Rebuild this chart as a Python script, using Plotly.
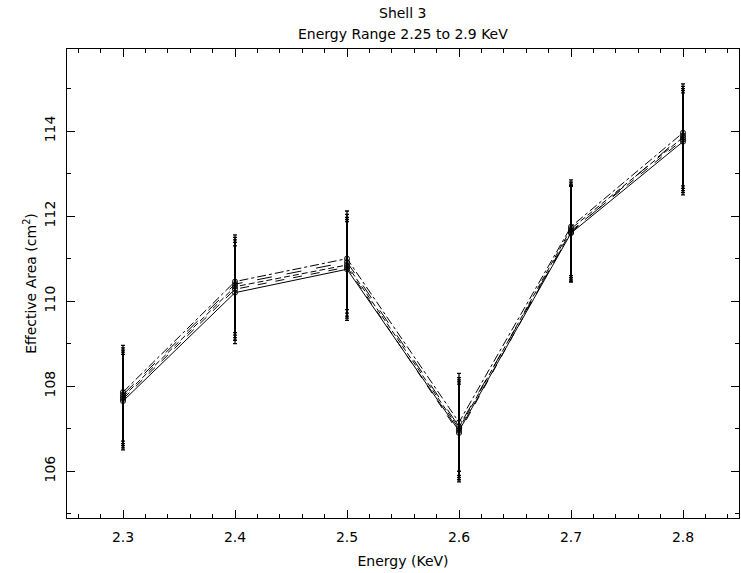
import plotly.graph_objects as go

energy = [2.3, 2.4, 2.5, 2.6, 2.7, 2.8]
area_s1 = [107.65, 110.20, 110.75, 106.95, 111.60, 113.75]
area_s2 = [107.70, 110.28, 110.80, 106.90, 111.65, 113.80]
area_s3 = [107.75, 110.34, 110.85, 107.00, 111.70, 113.85]
area_s4 = [107.80, 110.40, 110.92, 107.05, 111.62, 113.90]
area_s5 = [107.86, 110.46, 111.00, 107.15, 111.75, 113.96]
err_up = [1.10, 1.10, 1.12, 1.15, 1.10, 1.15]
err_dn = [1.15, 1.20, 1.20, 1.15, 1.15, 1.25]

series = [area_s1, area_s2, area_s3, area_s4, area_s5]
dashes = ["solid", "dash", "6px,3px", "longdash", "dashdot"]

fig = go.Figure()
for vals, d in zip(series, dashes):
    fig.add_trace(go.Scatter(
        x=energy, y=vals, mode="lines+markers",
        line=dict(color="black", width=1, dash=d),
        marker=dict(symbol="circle-open", size=5, color="black", line=dict(width=1)),
        error_y=dict(type="data", symmetric=False, array=err_up, arrayminus=err_dn,
                     color="black", thickness=1.3, width=2),
        showlegend=False,
    ))

font = dict(family="DejaVu Sans, sans-serif", size=14, color="black")
axis_common = dict(showgrid=False, zeroline=False, showline=True, linecolor="black",
                   linewidth=1, mirror="allticks", ticks="inside", ticklen=8,
                   tickcolor="black", tickfont=font)

fig.update_layout(
    width=741, height=573,
    margin=dict(l=67, r=2, t=49, b=55),
    paper_bgcolor="white", plot_bgcolor="white",
    font=font,
    xaxis=dict(range=[2.25, 2.85], tickvals=[2.3, 2.4, 2.5, 2.6, 2.7, 2.8],
               ticktext=["2.3", "2.4", "2.5", "2.6", "2.7", "2.8"],
               minor=dict(dtick=0.02, ticks="inside", ticklen=4, tickcolor="black"),
               ticklabelstandoff=6,
               title=dict(text="Energy (KeV)", font=font, standoff=12),
               **axis_common),
    yaxis=dict(range=[104.9, 115.93], tickvals=[106, 108, 110, 112, 114],
               minor=dict(dtick=1, ticks="inside", ticklen=4, tickcolor="black"),
               tickangle=-90, ticklabelstandoff=5,
               title=dict(text="Effective Area (cm<sup>2</sup>)", font=font, standoff=2),
               **axis_common),
)
fig.add_annotation(text="Shell 3", x=0.5, xref="paper", y=1, yref="paper",
                   yanchor="bottom", yshift=26, showarrow=False, font=font)
fig.add_annotation(text="Energy Range 2.25 to 2.9 KeV", x=0.5, xref="paper", y=1,
                   yref="paper", yanchor="bottom", yshift=5, showarrow=False, font=font)

fig.write_html("out.html")
